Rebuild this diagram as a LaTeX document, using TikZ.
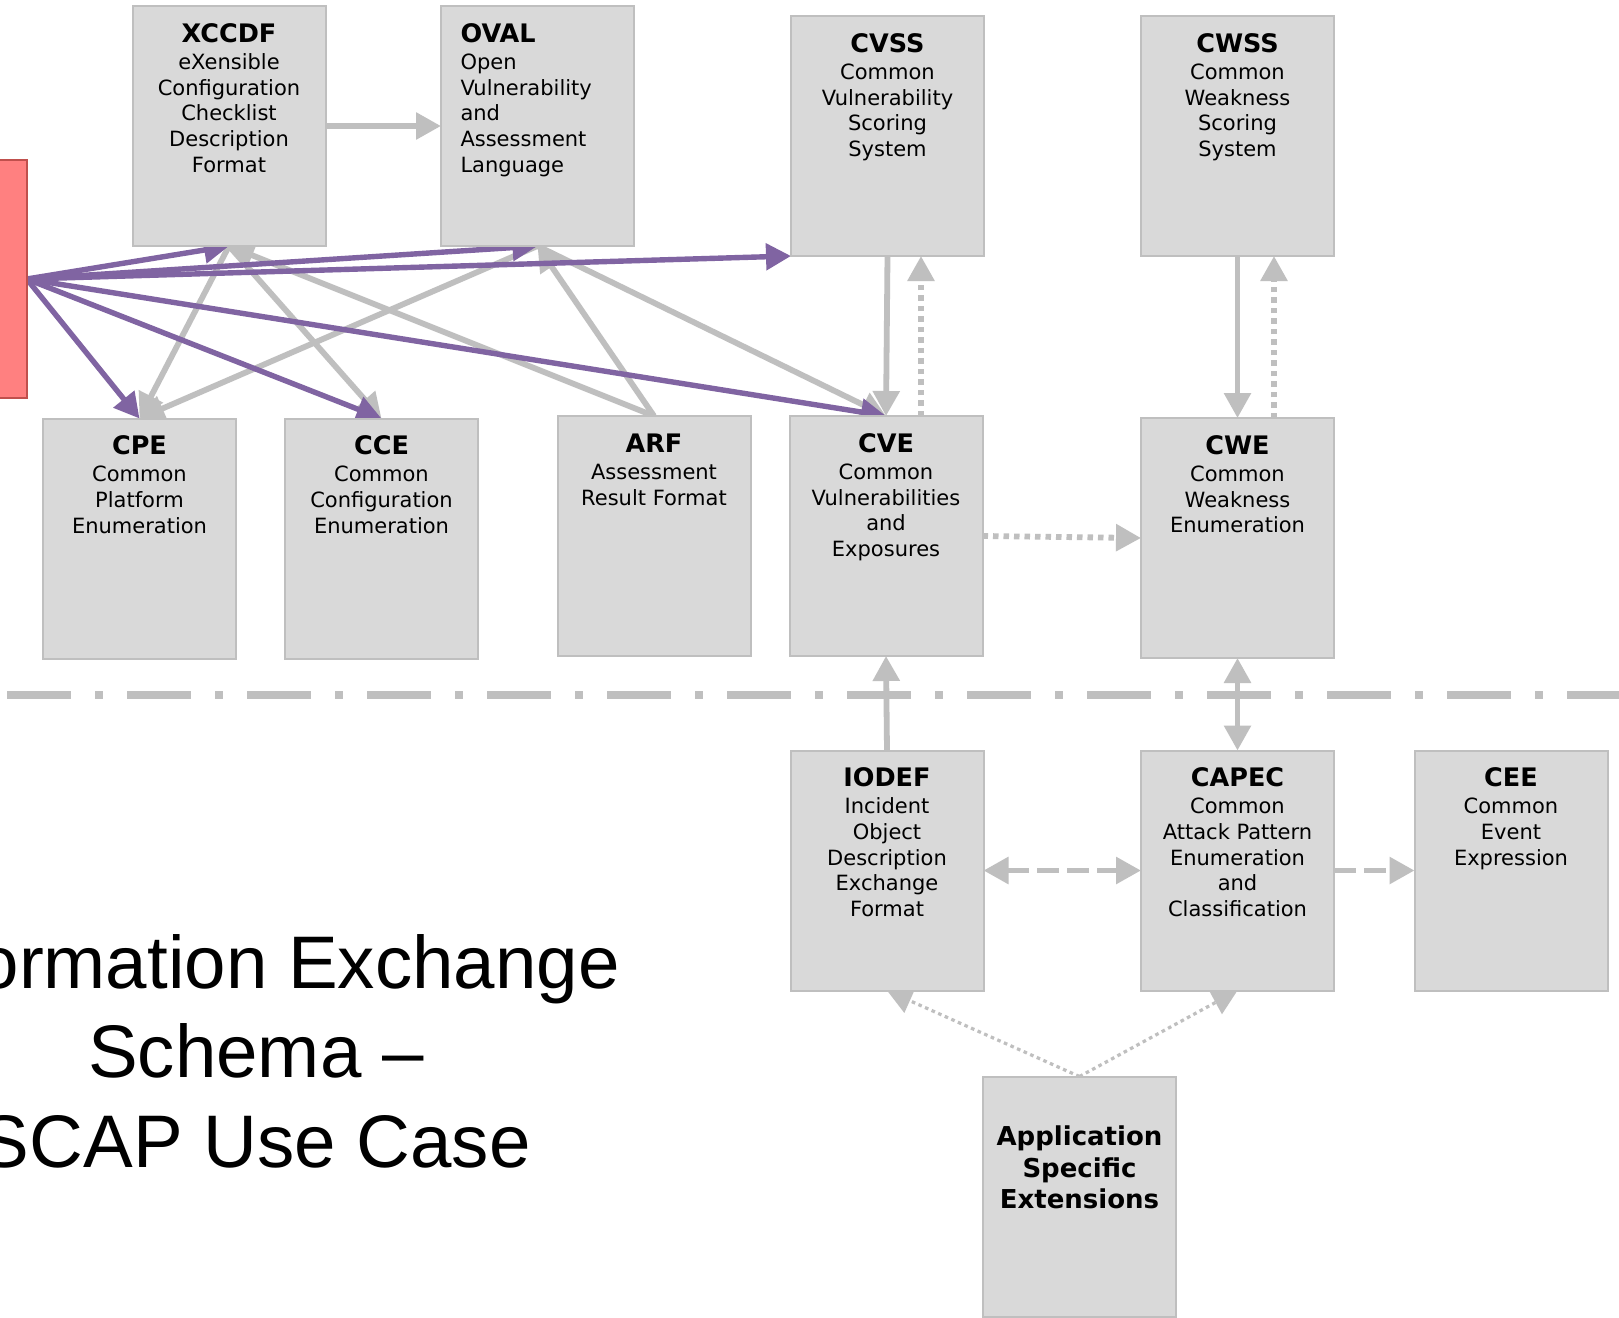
\documentclass[tikz,border=0pt]{standalone}
\usepackage{fontspec}
\usetikzlibrary{arrows.meta,calc,backgrounds}

\newfontfamily\boxfont{DejaVu Sans}
\newfontfamily\headfont{Liberation Sans}

\definecolor{boxfill}{HTML}{D9D9D9}
\definecolor{boxline}{HTML}{BFBFBF}
\definecolor{linkgray}{HTML}{BFBFBF}
\definecolor{linkpurple}{HTML}{8064A2}
\definecolor{srcfill}{HTML}{FF8080}
\definecolor{srcline}{HTML}{C0504D}

% fonts used inside the specification boxes
\newcommand\spectitlefont{\boxfont\bfseries\fontsize{12.75pt}{15pt}\selectfont}
\newcommand\specbodyfont{\boxfont\fontsize{10.5pt}{12.85pt}\selectfont}

% centred box text: bold acronym, then the expanded name
\newcommand\spectext[2]{\parbox[c][120pt][t]{96.5pt}{\centering
  \rule{0pt}{18pt}{\spectitlefont #1}\par
  \vspace{0.8pt}%
  {\specbodyfont #2\par}}}

% left-aligned variant
\newcommand\spectextleft[2]{\parbox[c][120pt][t]{96.5pt}{\raggedright\leftskip=9.75pt
  \rule{0pt}{18pt}{\spectitlefont #1}\par
  \vspace{0.8pt}%
  {\specbodyfont\raggedright\leftskip=9.75pt #2\par}}}

\tikzset{
  spec/.style={draw=boxline, fill=boxfill, line width=1pt, inner sep=0pt, outer sep=0pt},
  srcbox/.style={draw=srcline, fill=srcfill, line width=1pt, inner sep=0pt, outer sep=0pt,
                 minimum width=18.4pt, minimum height=119pt},
  heading/.style={font=\headfont\fontsize{37.25pt}{44.75pt}\selectfont, inner sep=0pt, anchor=base east},
  >={Triangle[length=12.5pt,width=13pt]},
  glink/.style={draw=linkgray, line width=2.9pt, ->},
  plink/.style={draw=linkpurple, line width=2.7pt, ->},
  gdotted/.style={glink, dash pattern=on 2.75pt off 2.5pt},
  gdashed/.style={glink, dash pattern=on 11pt off 4pt},
  thindotted/.style={draw=linkgray, line width=1.6pt, dash pattern=on 1.8pt off 1.8pt, ->},
  separator/.style={draw=linkgray, line width=4pt, dash pattern=on 32pt off 12pt on 4pt off 12pt}
}

\begin{document}
\begin{tikzpicture}[x=0.5pt, y=-0.5pt]
\useasboundingbox (0,0) rectangle (1619,1318);
\clip (0,0) rectangle (1619,1318);

% source box at the left edge
\node[srcbox] (src) at (8.4,279) {};

% upper row of specifications
\node[spec] (xccdf) at (229,126) {\spectext{XCCDF}{eXensible\\Configuration\\Checklist\\Description\\Format}};
\node[spec] (oval) at (537.5,126) {\spectextleft{OVAL}{Open\\Vulnerability\\and\\Assessment\\Language}};
\node[spec] (cvss) at (887.5,136) {\spectext{CVSS}{Common\\Vulnerability\\Scoring\\System}};
\node[spec] (cwss) at (1237.5,136) {\spectext{CWSS}{Common\\Weakness\\Scoring\\System}};

% middle row
\node[spec] (cpe) at (139.5,538.5) {\spectext{CPE}{Common\\Platform\\Enumeration}};
\node[spec] (cce) at (381.5,538.5) {\spectext{CCE}{Common\\Configuration\\Enumeration}};
\node[spec] (arf) at (654,536) {\spectext{ARF}{Assessment\\Result Format}};
\node[spec] (cve) at (886,536) {\spectext{CVE}{Common\\Vulnerabilities\\and\\Exposures}};
\node[spec] (cwe) at (1237.5,538) {\spectext{CWE}{Common\\Weakness\\Enumeration}};

% lower row
\node[spec] (iodef) at (887,870.5) {\spectext{IODEF}{Incident\\Object\\Description\\Exchange\\Format}};
\node[spec] (capec) at (1237.5,870.5) {\spectext{CAPEC}{Common\\Attack Pattern\\Enumeration\\and\\Classification}};
\node[spec] (cee) at (1511,870.5) {\spectext{CEE}{Common\\Event\\Expression}};
\node[spec] (appext) at (1079.5,1196.5) {\parbox[c][120pt][t]{96.5pt}{\centering
  \boxfont\bfseries\fontsize{13pt}{15.75pt}\selectfont
  \rule{0pt}{34.5pt}Application\\Specific\\Extensions\par}};

% heading text
\node[heading] (head1) at (620,988) {ormation Exchange};
\node[heading] (head2) at (424,1077) {Schema –};
\node[heading] (head3) at (531,1167) {SCAP Use Case};

\begin{pgfonlayer}{background}
  \fill[white] (0,0) rectangle (1619,1318);

  % dash-dot separator
  \coordinate (sepL) at (7,695);
  \coordinate (sepR) at (1619,695);
  \draw[separator] (sepL) -- (sepR);

  % gray relations
  \draw[glink] (xccdf.east) -- (oval.west);
  \draw[glink] (xccdf.south) -- (cpe.north);
  \draw[glink] (xccdf.south) -- (cce.north);
  \draw[glink] (oval.south) -- (cpe.north);
  \draw[glink] (oval.south) -- (cve.north);
  \draw[glink] (arf.north) -- (xccdf.south);
  \draw[glink] (arf.north) -- (oval.south);
  \draw[glink] (cvss.south) -- (cve.north);
  \draw[glink] (cwss.south) -- (cwe.north);
  \draw[gdotted] ($(cve.north)+(35,0)$) -- ($(cvss.south)+(33.5,0)$);
  \draw[gdotted] ($(cwe.north)+(36.5,0)$) -- ($(cwss.south)+(36.5,0)$);
  \draw[gdotted] (cve.east) -- (cwe.west);
  \draw[glink] (iodef.north) -- (cve.south);
  \draw[glink, <->] (capec.north) -- (cwe.south);
  \draw[gdashed, <->] (iodef.east) -- (capec.west);
  \draw[gdashed] (capec.east) -- (cee.west);
  \draw[thindotted] (appext.north) -- (iodef.south);
  \draw[thindotted] (appext.north) -- (capec.south);

  % purple relations from the source box
  \draw[plink] (src.east) -- (xccdf.south);
  \draw[plink] (src.east) -- (oval.south);
  \draw[plink] (src.east) -- (cvss.south west);
  \draw[plink] (src.east) -- (cpe.north);
  \draw[plink] (src.east) -- (cce.north);
  \draw[plink] (src.east) -- (cve.north);
\end{pgfonlayer}
\end{tikzpicture}
\end{document}
